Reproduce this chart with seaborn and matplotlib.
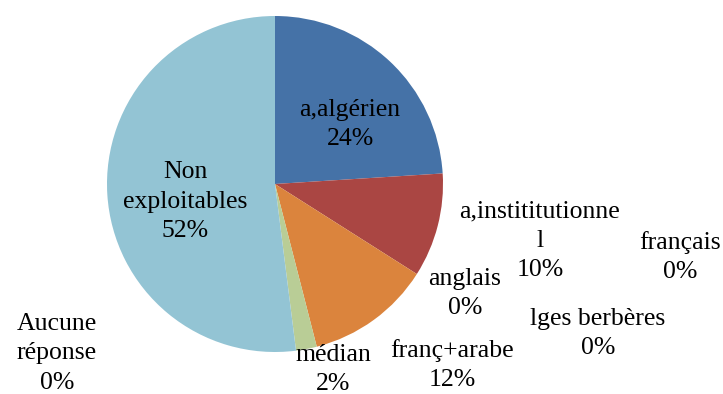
import matplotlib
matplotlib.use("Agg")
import matplotlib.pyplot as plt
import seaborn as sns

sns.set_theme(style="white")
plt.rcParams['font.family'] = ['Liberation Serif', 'DejaVu Serif']

categories = ["a,algérien", "a,instititutionne\nl", "français", "anglais",
              "lges berbères", "franç+arabe", "médian", "Aucune\nréponse",
              "Non\nexploitables"]
values = [24, 10, 0, 0, 0, 12, 2, 0, 52]
colors = ["#4572A7", "#AA4643", "#89A54E", "#71588F", "#4198AF",
          "#DB843D", "#B9CD96", "#D19392", "#93C4D4"]

# label centre positions in pixel coordinates (x, y from top)
label_pos = [(350, 122), (540, 238), (680, 255), (465, 291),
             (598, 331), (452, 363), (333, 367), (57, 351), (185, 199)]
LINE_STEP = 29.5

W, H = 723, 394
fig = plt.figure(figsize=(W / 100, H / 100), dpi=100)
ax = fig.add_axes([0, 0, 1, 1])

cx, cy, r = 275, 184, 168
ax.pie(values, colors=colors, startangle=90, counterclock=False,
       center=(cx, H - cy), radius=r, frame=True,
       wedgeprops=dict(linewidth=0))
ax.set_xlim(0, W)
ax.set_ylim(0, H)
ax.set_aspect("equal")
ax.axis("off")

for cat, v, (x, y) in zip(categories, values, label_pos):
    lines = f"{cat}\n{v}%".split("\n")
    n = len(lines)
    for i, line in enumerate(lines):
        yy = y + (i - (n - 1) / 2) * LINE_STEP
        ax.text(x, H - yy, line, ha="center", va="center_baseline",
                fontsize=18.5, color="black")

fig.savefig("out.png", dpi=100)
